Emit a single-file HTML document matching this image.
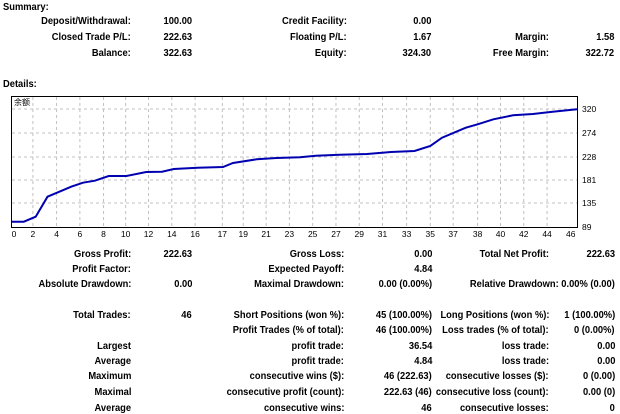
<!DOCTYPE html>
<html><head><meta charset="utf-8"><style>
body{margin:0;background:#fff;width:620px;height:414px;overflow:hidden;position:relative;font-family:Tahoma,"Liberation Sans","Noto Sans CJK SC",sans-serif;font-size:10.5px;font-weight:bold;color:#000}
.t{position:absolute;white-space:nowrap;line-height:12px}
.r{text-align:right;transform:scaleX(0.89);transform-origin:right center}
.l{transform:scaleX(0.89);transform-origin:left center}
</style></head><body>
<div class="t l" style="left:3px;top:1px">Summary:</div>
<div class="t l" style="left:3px;top:78px">Details:</div>
<svg style="position:absolute;left:0;top:0" width="620" height="245" font-family="Tahoma,Liberation Sans,sans-serif" font-size="8.5" font-weight="normal">
<rect x="11.5" y="96.5" width="566" height="131" fill="#fff" stroke="#000"/>
<g stroke="#c0c0c0" stroke-dasharray="3,3">
<line x1="12" x2="577" y1="109" y2="109"/><line x1="12" x2="577" y1="133" y2="133"/><line x1="12" x2="577" y1="157" y2="157"/><line x1="12" x2="577" y1="180" y2="180"/><line x1="12" x2="577" y1="203" y2="203"/>
<g id="vg"></g>
</g>
<polyline fill="none" stroke="#0000b0" stroke-width="2" points="12,221.7 23.8,221.7 35.7,216.7 47.5,196.7 59.4,191.7 71.2,186.7 83,182.7 94.9,180.7 108.7,176 126.4,176 146.2,172 162,171.7 173.8,169 197.5,167.7 223,167 233,163 256.7,159.3 276.4,158 300,157.3 315.8,155.7 339.5,154.7 367,154 390.8,152 414.5,151 430.3,146 442,137.7 465.8,127.7 477.6,124.3 493.4,119.3 513,115.3 532.9,114 552.6,111.7 577,109.3"/>
<text x="14" y="105" font-size="8">余额</text>
<g fill="#000">
<text x="582" y="112">320</text><text x="582" y="136">274</text><text x="582" y="160">228</text><text x="582" y="183">181</text><text x="582" y="206">135</text><text x="582" y="230">89</text>
</g>
<g id="xl" text-anchor="middle"></g>
</svg>
<script>
var xs=[35,83,143,202,262,318,376,435,494,563,616,674,733,792,851,910,969,1030,1090,1148,1210,1268,1327,1386,1446];
var lb=[0,2,4,6,8,10,12,14,16,17,19,21,23,25,27,29,31,33,35,37,38,40,42,44,46];
var vg=document.getElementById('vg'),xl=document.getElementById('xl'),ns='http://www.w3.org/2000/svg';
xs.forEach(function(z,i){var x=12+(z-30)*0.3946;
if(i>0&&i<xs.length-1){var l=document.createElementNS(ns,'line');l.setAttribute('x1',x);l.setAttribute('x2',x);l.setAttribute('y1',97);l.setAttribute('y2',227);vg.appendChild(l);}
var t=document.createElementNS(ns,'text');t.setAttribute('x',x);t.setAttribute('y',237);t.textContent=lb[i];xl.appendChild(t);});
function add(rx,y,s){var d=document.createElement('div');d.className='t r';d.style.right=(620-rx)+'px';d.style.top=(y-6)+'px';d.textContent=s;document.body.appendChild(d);}
var rows=[
[21,[[131,'Deposit/Withdrawal:'],[192,'100.00'],[347,'Credit Facility:'],[431,'0.00']]],
[37,[[131,'Closed Trade P/L:'],[192,'222.63'],[347,'Floating P/L:'],[431,'1.67'],[549,'Margin:'],[614,'1.58']]],
[53,[[131,'Balance:'],[192,'322.63'],[347,'Equity:'],[431,'324.30'],[549,'Free Margin:'],[614,'322.72']]],
[254,[[131,'Gross Profit:'],[192,'222.63'],[344,'Gross Loss:'],[432,'0.00'],[549,'Total Net Profit:'],[615,'222.63']]],
[269,[[131,'Profit Factor:'],[344,'Expected Payoff:'],[432,'4.84']]],
[284,[[131,'Absolute Drawdown:'],[192,'0.00'],[344,'Maximal Drawdown:'],[432,'0.00 (0.00%)'],[615,'Relative Drawdown:  0.00% (0.00)']]],
[315,[[131,'Total Trades:'],[192,'46'],[344,'Short Positions (won %):'],[432,'45 (100.00%)'],[549,'Long Positions (won %):'],[615,'1 (100.00%)']]],
[330,[[344,'Profit Trades (% of total):'],[432,'46 (100.00%)'],[549,'Loss trades (% of total):'],[615,'0 (0.00%)']]],
[346,[[131,'Largest'],[344,'profit trade:'],[432,'36.54'],[549,'loss trade:'],[615,'0.00']]],
[361,[[131,'Average'],[344,'profit trade:'],[432,'4.84'],[549,'loss trade:'],[615,'0.00']]],
[376,[[131,'Maximum'],[344,'consecutive wins ($):'],[432,'46 (222.63)'],[549,'consecutive losses ($):'],[615,'0 (0.00)']]],
[392,[[131,'Maximal'],[344,'consecutive profit (count):'],[432,'222.63 (46)'],[549,'consecutive loss (count):'],[615,'0.00 (0)']]],
[408,[[131,'Average'],[344,'consecutive wins:'],[432,'46'],[549,'consecutive losses:'],[615,'0']]]];
rows.forEach(function(r){r[1].forEach(function(c){add(c[0],r[0],c[1]);});});
</script>
</body></html>
